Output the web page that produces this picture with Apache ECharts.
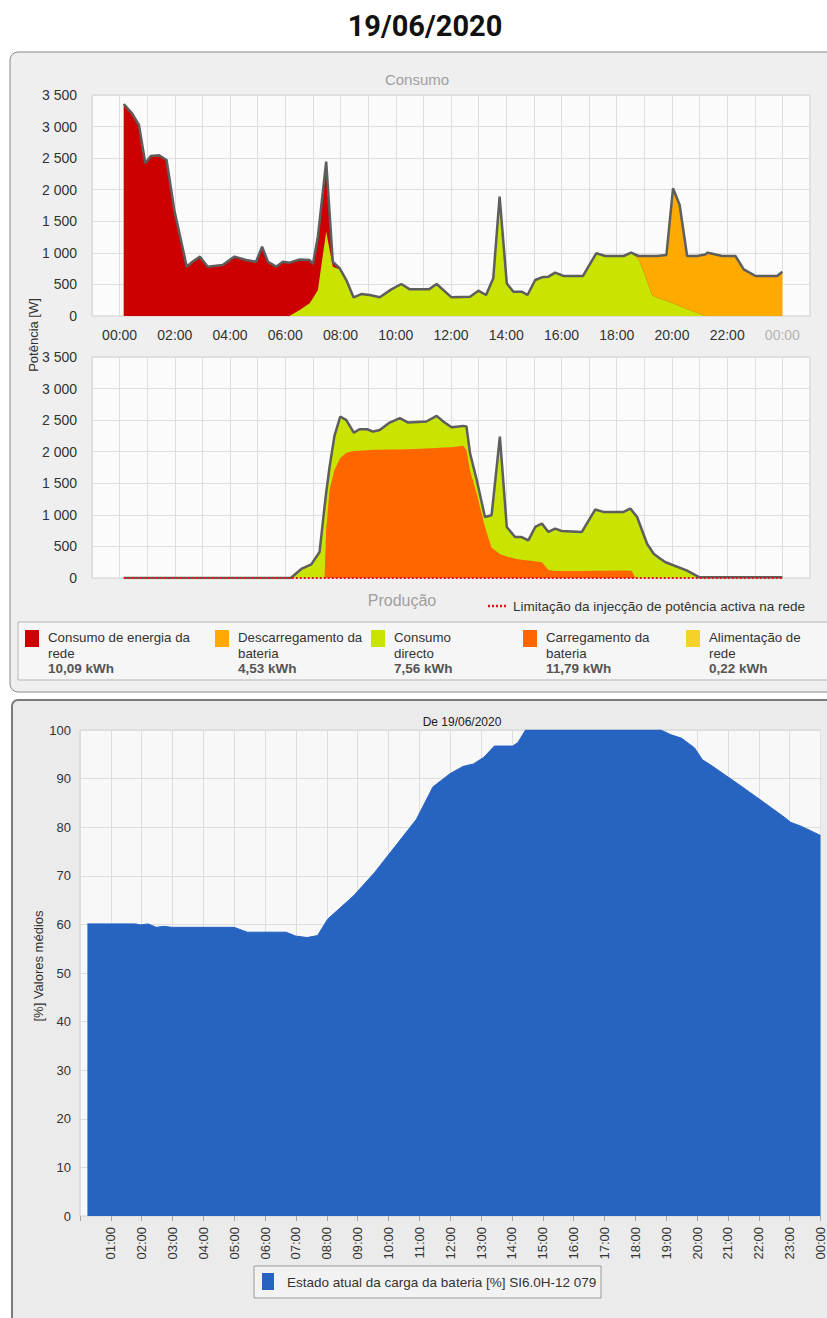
<!DOCTYPE html>
<html>
<head>
<meta charset="utf-8">
<title>19/06/2020</title>
<script src="https://cdn.jsdelivr.net/npm/echarts@6/dist/echarts.min.js"></script>
<style>
  html, body { margin: 0; padding: 0; background: #fff; }
  #main { width: 827px; height: 1318px; }
</style>
</head>
<body>
<div id="main"></div>
<script>
// Consumo [W] (horas decimais)
const consHoras = [0.15, 0.45, 0.7, 0.93, 1.13, 1.43, 1.7, 1.98, 2.22, 2.43, 2.64, 2.91, 3.19, 3.73, 4.16, 4.58, 4.94, 5.16, 5.37, 5.67, 5.91, 6.15, 6.52, 6.88, 7.0, 7.18, 7.48, 7.72, 7.97, 8.21, 8.47, 8.75, 9.06, 9.42, 9.84, 10.2, 10.51, 11.2, 11.48, 12.02, 12.69, 12.99, 13.27, 13.53, 13.76, 14.02, 14.26, 14.56, 14.77, 15.05, 15.29, 15.53, 15.77, 16.08, 16.78, 17.26, 17.59, 18.25, 18.52, 18.8, 19.1, 19.28, 19.46, 19.8, 20.04, 20.28, 20.55, 20.91, 21.2, 21.3, 21.82, 22.3, 22.6, 23.03, 23.81, 24.0];
const consDirecto = [0, 0, 0, 0, 0, 0, 0, 0, 0, 0, 0, 0, 0, 0, 0, 0, 0, 0, 0, 0, 0, 0, 95, 200, 280, 412, 1336, 781, 735, 570, 296, 348, 333, 296, 422, 507, 422, 422, 507, 296, 306, 401, 333, 597, 1890, 517, 385, 385, 333, 570, 612, 623, 686, 634, 634, 993, 950, 950, 1003, 900, 560, 330, 290, 240, 200, 160, 110, 50, 0, 0, 0, 0, 0, 0, 0, 0];
const consRede = [3358, 3210, 3025, 2418, 2534, 2545, 2471, 1679, 1204, 781, 860, 940, 781, 808, 940, 887, 860, 1098, 860, 781, 860, 845, 800, 687, 544, 845, 1109, 79, 20, 0, 0, 0, 0, 0, 0, 0, 0, 0, 0, 0, 0, 0, 0, 0, 0, 0, 0, 0, 0, 0, 0, 0, 0, 0, 0, 0, 0, 0, 0, 0, 0, 0, 0, 0, 0, 0, 0, 0, 0, 0, 0, 0, 0, 0, 0, 0];
const consDescarga = [0, 0, 0, 0, 0, 0, 0, 0, 0, 0, 0, 0, 0, 0, 0, 0, 0, 0, 0, 0, 0, 0, 0, 0, 0, 0, 0, 0, 0, 0, 0, 0, 0, 0, 0, 0, 0, 0, 0, 0, 0, 0, 0, 0, 0, 0, 0, 0, 0, 0, 0, 0, 0, 0, 0, 0, 0, 0, 0, 50, 390, 620, 660, 726, 1822, 1598, 840, 900, 975, 1003, 950, 950, 739, 634, 634, 702];

// Produção [W]
const prodHoras = [0.15, 6.2, 6.6, 6.94, 7.24, 7.42, 7.48, 7.6, 7.78, 7.99, 8.21, 8.48, 8.69, 8.96, 9.18, 9.42, 9.78, 10.15, 10.45, 11.11, 11.48, 11.72, 12.02, 12.44, 12.56, 12.69, 12.93, 13.23, 13.47, 13.77, 14.02, 14.32, 14.56, 14.8, 15.05, 15.29, 15.53, 15.77, 16.01, 16.74, 17.22, 17.52, 18.25, 18.49, 18.55, 18.68, 18.74, 19.1, 19.34, 19.58, 19.77, 20.53, 21.0, 24.0];
const prodCarga = [0, 0, 0, 0, 0, 0, 755, 1391, 1709, 1900, 1985, 2010, 2017, 2025, 2030, 2032, 2035, 2037, 2038, 2050, 2058, 2065, 2072, 2095, 2027, 1700, 1338, 808, 480, 380, 340, 305, 290, 278, 265, 250, 125, 112, 109, 112, 115, 116, 118, 115, 110, 0, 0, 0, 0, 0, 0, 0, 0, 0];
const prodDirecto = [0, 0, 150, 215, 411, 1126, 595, 359, 541, 657, 515, 293, 339, 331, 289, 313, 427, 494, 424, 428, 510, 413, 316, 314, 373, 274, 217, 159, 514, 1859, 468, 344, 359, 318, 543, 611, 604, 670, 636, 617, 969, 931, 929, 985, 960, 1000, 967, 543, 384, 305, 250, 122, 10, 10];

// Limitação da injecção
const limHoras = [0.15, 24];
const limValores = [0, 0];

// Estado de carga da bateria [%]
const socHoras = [0.24, 1.79, 1.96, 2.21, 2.47, 2.72, 2.97, 4.99, 5.42, 6.68, 6.99, 7.36, 7.7, 8.03, 8.87, 9.55, 10.22, 10.9, 11.44, 11.99, 12.41, 12.75, 13.09, 13.43, 14.02, 14.19, 14.44, 18.82, 19.16, 19.5, 19.92, 20.17, 20.51, 21.35, 22.19, 22.86, 23.03, 23.37, 24.0];
const socValores = [60.1, 60.1, 59.9, 60.1, 59.4, 59.6, 59.4, 59.4, 58.4, 58.4, 57.6, 57.3, 57.7, 61.1, 65.9, 70.7, 76.1, 81.6, 88.3, 91.0, 92.5, 93.0, 94.4, 96.7, 96.7, 97.4, 100, 100, 99.0, 98.3, 96.3, 93.9, 92.5, 88.8, 85.0, 81.9, 81.0, 80.2, 78.3];

// legenda
const legendaNomes = ['Consumo de energia da\nrede', 'Descarregamento da\nbateria', 'Consumo\ndirecto', 'Carregamento da\nbateria', 'Alimentação de\nrede'];
const legendaKWh = [10.09, 4.53, 7.56, 11.79, 0.22];
const limNome = 'Limitação da injecção de potência activa na rede';
const socNome = 'Estado atual da carga da bateria [%] SI6.0H-12 079';

const cores = ['#cc0000', '#ffaa00', '#c8e400', '#ff6600', '#f5d228'];
const legendaX = [25, 215, 371, 523, 686];

const hh = h => String(h % 24).padStart(2, '0') + ':00';
const milhar = v => String(v).replace(/\B(?=(\d{3})+(?!\d))/g, ' ');
// soma acumulada das colunas (empilhamento feito à mão, camadas desenhadas de cima para baixo)
const soma = (xs, ...cols) => xs.map((x, i) => [x, cols.reduce((s, c) => s + c[i], 0)]);
const pares = (xs, ys) => soma(xs, ys);

const font = 'Liberation Sans, Arial, sans-serif';
const gridLine = { lineStyle: { color: '#dedede', width: 1 } };

const chart = echarts.init(document.getElementById('main'), null, { renderer: 'svg' });

const legendaItens = [];
legendaNomes.forEach((nome, i) => {
  const x = legendaX[i];
  legendaItens.push(
    { type: 'rect', z: 5, shape: { x: x, y: 630, width: 14, height: 17 }, style: { fill: cores[i] } },
    { type: 'text', z: 5, x: x + 23, y: 629, style: { text: nome, fill: '#333', font: '13.3px ' + font, lineHeight: 16 } },
    { type: 'text', z: 5, x: x + 23, y: 661, style: { text: legendaKWh[i].toFixed(2).replace('.', ',') + ' kWh', fill: '#555', font: 'bold 13.5px ' + font } }
  );
});

function area (name, xi, data, color) {
  return { name: name, type: 'line', xAxisIndex: xi, yAxisIndex: xi, symbol: 'none', data: data,
    lineStyle: { width: 0 }, areaStyle: { color: color, opacity: 1 } };
}

const option = {
  animation: false,
  textStyle: { fontFamily: font },
  title: [
    { text: '19/06/2020', left: 420, top: 6, textAlign: 'center', textStyle: { fontSize: 29, fontWeight: 'bold', color: '#111', fontFamily: 'Roboto, sans-serif' } },
    { text: 'Consumo', left: 412, top: 67, textAlign: 'center', textStyle: { fontSize: 15, fontWeight: 'normal', color: '#a0a0a0' } },
    { text: 'Produção', left: 397, top: 587, textAlign: 'center', textStyle: { fontSize: 16, fontWeight: 'normal', color: '#a0a0a0' } },
    { text: 'De 19/06/2020', left: 457, top: 711, textAlign: 'center', textStyle: { fontSize: 12, fontWeight: 'normal', color: '#222' } }
  ],
  grid: [
    { left: 92, top: 95, width: 718, height: 221, show: true, backgroundColor: '#fbfbfb', borderColor: '#d0d0d0', borderWidth: 1 },
    { left: 92, top: 357, width: 718, height: 221, show: true, backgroundColor: '#fbfbfb', borderColor: '#d0d0d0', borderWidth: 1 },
    { left: 80, top: 730, width: 741, height: 486, show: true, backgroundColor: '#f8f8f8', borderColor: '#d0d0d0', borderWidth: 1 }
  ],
  xAxis: [
    {
      gridIndex: 0, type: 'value', min: -1, max: 25, interval: 1,
      axisLine: { show: false }, axisTick: { show: false }, splitLine: gridLine,
      axisLabel: {
        fontSize: 14, margin: 12,
        formatter: v => (v >= 0 && v <= 24 && v % 2 === 0) ? hh(v) : '',
        color: v => Number(v) === 24 ? '#b4b4b4' : '#333'
      }
    },
    {
      gridIndex: 1, type: 'value', min: -1, max: 25, interval: 1,
      axisLine: { show: false }, axisTick: { show: false }, splitLine: gridLine,
      axisLabel: { show: false }
    },
    {
      gridIndex: 2, type: 'value', min: 0, max: 24, interval: 1,
      axisLine: { show: false },
      axisTick: { show: true, length: 5, lineStyle: { color: '#aaa' } },
      splitLine: gridLine,
      axisLabel: { rotate: 90, fontSize: 13, margin: 11, color: '#333', formatter: v => v === 0 ? '' : hh(v) }
    }
  ],
  yAxis: [
    {
      gridIndex: 0, type: 'value', min: 0, max: 3500, interval: 500,
      axisLine: { show: false }, axisTick: { show: false }, splitLine: gridLine,
      axisLabel: { fontSize: 14, color: '#333', margin: 15, formatter: milhar }
    },
    {
      gridIndex: 1, type: 'value', min: 0, max: 3500, interval: 500,
      axisLine: { show: false }, axisTick: { show: false }, splitLine: gridLine,
      axisLabel: { fontSize: 14, color: '#333', margin: 15, formatter: milhar }
    },
    {
      gridIndex: 2, type: 'value', min: 0, max: 100, interval: 10,
      axisLine: { show: false }, axisTick: { show: false }, splitLine: gridLine,
      axisLabel: { fontSize: 13, color: '#333', margin: 9 }
    }
  ],
  series: [
    // consumo: camadas acumuladas, a de cima primeiro
    area('Descarregamento da bateria', 0, soma(consHoras, consDirecto, consRede, consDescarga), cores[1]),
    area('Consumo de energia da rede', 0, soma(consHoras, consDirecto, consRede), cores[0]),
    area('Consumo directo', 0, pares(consHoras, consDirecto), cores[2]),
    { name: 'Consumo total', type: 'line', xAxisIndex: 0, yAxisIndex: 0, symbol: 'none',
      data: soma(consHoras, consDirecto, consRede, consDescarga), lineStyle: { color: '#5e5e5e', width: 2.5 } },

    // produção
    area('Consumo directo (produção)', 1, soma(prodHoras, prodCarga, prodDirecto), cores[2]),
    area('Carregamento da bateria', 1, pares(prodHoras, prodCarga), cores[3]),
    { name: 'Produção total', type: 'line', xAxisIndex: 1, yAxisIndex: 1, symbol: 'none',
      data: soma(prodHoras, prodCarga, prodDirecto), lineStyle: { color: '#5e5e5e', width: 2.5 } },
    { name: limNome, type: 'line', xAxisIndex: 1, yAxisIndex: 1, symbol: 'none', z: 5,
      data: pares(limHoras, limValores), lineStyle: { color: '#e0141e', width: 2, type: [2, 2] } },

    { name: socNome, type: 'line', xAxisIndex: 2, yAxisIndex: 2, symbol: 'none',
      data: pares(socHoras, socValores), lineStyle: { color: '#2763c0', width: 1 }, areaStyle: { color: '#2763c0', opacity: 1 } }
  ],
  graphic: [
    // painel superior
    { type: 'rect', z: -5, shape: { x: 10, y: 52, width: 830, height: 640, r: 8 }, style: { fill: '#efefef', stroke: '#8a8a8a', lineWidth: 1 } },
    { type: 'rect', z: -4, shape: { x: 18, y: 622, width: 820, height: 58 }, style: { fill: '#f6f6f6', stroke: '#b5b5b5', lineWidth: 1 } },
    ...legendaItens,
    { type: 'line', z: 5, shape: { x1: 488, y1: 606, x2: 508, y2: 606 }, style: { stroke: '#e0141e', lineWidth: 2.5, lineDash: [2, 2] } },
    { type: 'text', z: 5, x: 513, y: 606, style: { text: limNome, fill: '#333', font: '13.5px ' + font, verticalAlign: 'middle' } },
    { type: 'text', z: 5, x: 33, y: 335, rotation: Math.PI / 2, style: { text: 'Potência [W]', fill: '#333', font: '13px ' + font, align: 'center', verticalAlign: 'middle' } },
    // painel inferior
    { type: 'rect', z: -5, shape: { x: 12, y: 700, width: 830, height: 640, r: 6 }, style: { fill: '#ebebeb', stroke: '#7a7a7a', lineWidth: 2 } },
    { type: 'text', z: 5, x: 38, y: 966, rotation: Math.PI / 2, style: { text: '[%] Valores médios', fill: '#333', font: '13px ' + font, align: 'center', verticalAlign: 'middle' } },
    { type: 'rect', z: 5, shape: { x: 254, y: 1266, width: 347, height: 32 }, style: { fill: '#f2f2f2', stroke: '#9a9a9a', lineWidth: 1 } },
    { type: 'rect', z: 6, shape: { x: 262, y: 1273, width: 12, height: 17 }, style: { fill: '#2763c0' } },
    { type: 'text', z: 6, x: 287, y: 1282, style: { text: socNome, fill: '#333', font: '13.5px ' + font, verticalAlign: 'middle' } }
  ]
};

chart.setOption(option);
</script>
</body>
</html>
